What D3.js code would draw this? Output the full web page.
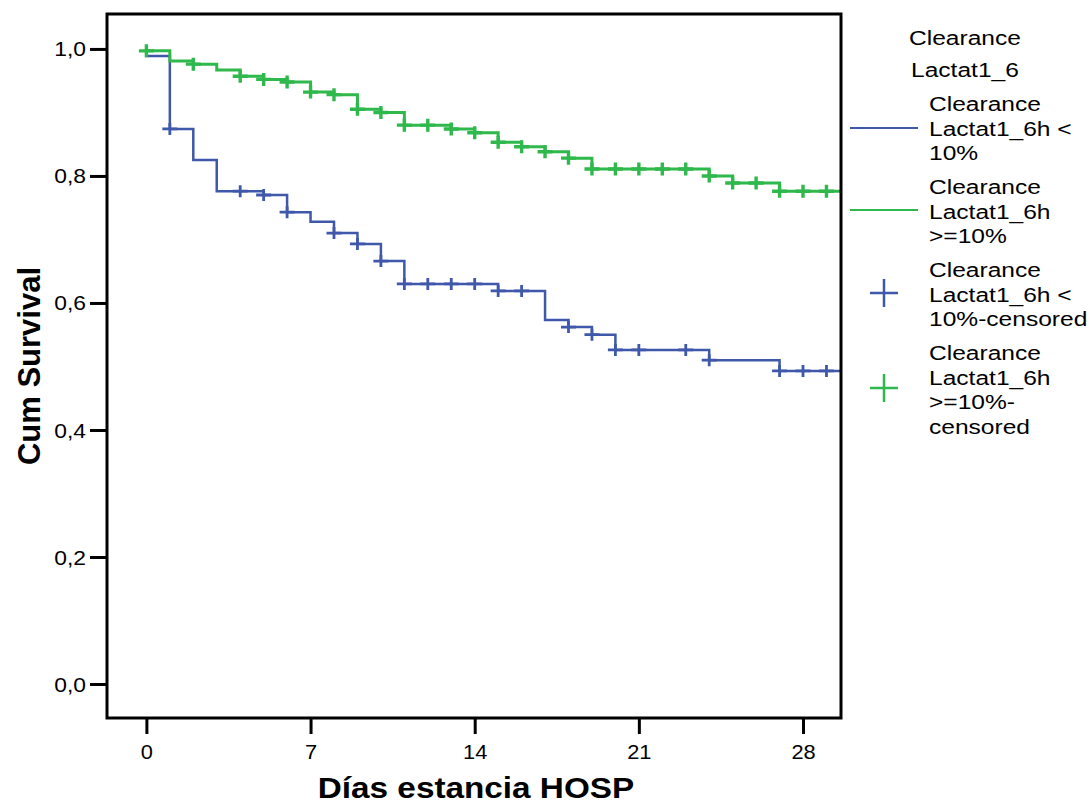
<!DOCTYPE html>
<html>
<head>
<meta charset="utf-8">
<script src="https://cdn.jsdelivr.net/npm/d3@7/dist/d3.min.js"></script>
<style>
  body { margin: 0; background: #fff; }
  svg { display: block; font-family: "Liberation Sans", Arial, sans-serif; }
</style>
</head>
<body>
<svg width="1091" height="804"></svg>
<script>
// Kaplan-Meier steps
let blueTime = [0, 0, 1, 2, 3, 5, 6, 7, 8, 9, 10, 11, 15, 17, 18, 19, 20, 24, 27];
let blueSurv = [1.0, 0.989, 0.874, 0.825, 0.776, 0.770, 0.743, 0.728, 0.710, 0.693, 0.666, 0.630, 0.619, 0.573, 0.562, 0.550, 0.526, 0.510, 0.493];
let blueCensored = [1, 4, 5, 6, 8, 9, 10, 11, 12, 13, 14, 15, 16, 18, 19, 20, 21, 23, 24, 27, 28, 29];

let greenTime = [0, 0, 1, 2, 3, 4, 5, 6, 7, 8, 9, 10, 11, 13, 14, 15, 16, 17, 18, 19, 24, 25, 27];
let greenSurv = [1.0, 0.997, 0.981, 0.976, 0.967, 0.957, 0.952, 0.948, 0.932, 0.928, 0.905, 0.900, 0.880, 0.874, 0.868, 0.853, 0.846, 0.838, 0.828, 0.811, 0.800, 0.789, 0.776];
let greenCensored = [0, 2, 4, 5, 6, 7, 8, 9, 10, 11, 12, 13, 14, 15, 16, 17, 18, 19, 20, 21, 22, 23, 24, 25, 26, 27, 28, 29];

let xTicks = [0, 7, 14, 21, 28];
let yTicks = [0, 0.2, 0.4, 0.6, 0.8, 1.0];

let legendTitle = ['Clearance', 'Lactat1_6'];
let legendItems = [
    ['Clearance', 'Lactat1_6h <', '10%'],
    ['Clearance', 'Lactat1_6h', '>=10%'],
    ['Clearance', 'Lactat1_6h <', '10%-censored'],
    ['Clearance', 'Lactat1_6h', '>=10%-', 'censored']
];

let blue = '#3f58aa';
let green = '#2fb84b';

let svg = d3.select('svg');
let frame = { left: 107, right: 841, top: 14, bottom: 718 };

let x = d3.scaleLinear().domain([-1.68, 29.62]).range([frame.left, frame.right]);
let y = d3.scaleLinear().domain([-0.0535, 1.055]).range([frame.bottom, frame.top]);

svg.append('clipPath').attr('id', 'clip')
    .append('rect')
    .attr('x', frame.left).attr('y', frame.top)
    .attr('width', frame.right - frame.left).attr('height', frame.bottom - frame.top);

function survAt(times, surv, t) {
    let s = surv[0];
    times.forEach((tt, i) => { if (tt <= t) s = surv[i]; });
    return s;
}

let line = d3.line().x(d => x(d[0])).y(d => y(d[1])).curve(d3.curveStepAfter);

let plot = svg.append('g').attr('clip-path', 'url(#clip)');

function drawCurve(times, surv, cens, color, w, mw, mh) {
    let pts = times.map((t, i) => [t, surv[i]]);
    pts.push([x.domain()[1] + 1, surv[surv.length - 1]]);
    plot.append('path')
        .attr('d', line(pts))
        .attr('fill', 'none')
        .attr('stroke', color)
        .attr('stroke-width', w);
    plot.selectAll(null)
        .data(cens)
        .enter().append('path')
        .attr('transform', d => 'translate(' + x(d) + ',' + y(survAt(times, surv, d)) + ')')
        .attr('d', 'M-7.5,0H7.5M0,-' + mh + 'V' + mh)
        .attr('stroke', color)
        .attr('stroke-width', mw);
}

drawCurve(blueTime, blueSurv, blueCensored, blue, 2.5, 2.8, 6);
drawCurve(greenTime, greenSurv, greenCensored, green, 3, 3.4, 6.5);

// frame
svg.append('rect')
    .attr('x', frame.left).attr('y', frame.top)
    .attr('width', frame.right - frame.left).attr('height', frame.bottom - frame.top)
    .attr('fill', 'none').attr('stroke', '#000').attr('stroke-width', 3);

// axes
let yAxis = svg.append('g')
    .attr('transform', 'translate(' + frame.left + ',0)')
    .call(d3.axisLeft(y).tickValues(yTicks).tickSize(17).tickFormat(d => d3.format('.1f')(d).replace('.', ',')));
let xAxis = svg.append('g')
    .attr('transform', 'translate(0,' + frame.bottom + ')')
    .call(d3.axisBottom(x).tickValues(xTicks).tickSize(16));

[yAxis, xAxis].forEach(a => {
    a.select('.domain').remove();
    a.selectAll('.tick line').attr('stroke', '#000').attr('stroke-width', 3);
    a.selectAll('.tick text').attr('fill', '#000').style('font-size', '19.5px').attr('font-family', null);
});
yAxis.selectAll('.tick text')
    .attr('x', 0).attr('dy', '0.36em')
    .attr('transform', 'translate(-21,0) scale(1.17,1)');
xAxis.selectAll('.tick text')
    .attr('y', 0).attr('dy', 0)
    .attr('transform', 'translate(0,41) scale(1.12,1)');

// axis titles
svg.append('text')
    .attr('text-anchor', 'middle')
    .attr('transform', 'translate(476,798) scale(1.11,1)')
    .attr('font-size', '30px')
    .attr('font-weight', 'bold')
    .text('Días estancia HOSP');

svg.append('text')
    .attr('text-anchor', 'middle')
    .attr('transform', 'translate(40,366) rotate(-90)')
    .attr('font-size', '31px')
    .attr('font-weight', 'bold')
    .text('Cum Survival');

// legend
let lg = svg.append('g');
legendTitle.forEach((t, i) => {
    lg.append('text')
        .attr('transform', 'translate(' + (909 + i * 2) + ',' + (45 + i * 32) + ') scale(1.17,1)')
        .attr('font-size', '21px')
        .text(t);
});
legendItems.forEach((lines, i) => {
    let top = 111 + i * 83;
    lines.forEach((t, j) => {
        lg.append('text')
            .attr('transform', 'translate(929,' + (top + j * 24.5) + ') scale(1.17,1)')
            .attr('font-size', '21px')
            .text(t);
    });
});
lg.append('line').attr('x1', 850).attr('x2', 918).attr('y1', 128).attr('y2', 128)
    .attr('stroke', blue).attr('stroke-width', 2.2);
lg.append('line').attr('x1', 850).attr('x2', 918).attr('y1', 210).attr('y2', 210)
    .attr('stroke', green).attr('stroke-width', 2.2);
lg.append('path').attr('d', 'M870,293H898M884,279V307').attr('stroke', blue).attr('stroke-width', 2.5);
lg.append('path').attr('d', 'M870,388H898M884,374V402').attr('stroke', green).attr('stroke-width', 2.5);
</script>
</body>
</html>
